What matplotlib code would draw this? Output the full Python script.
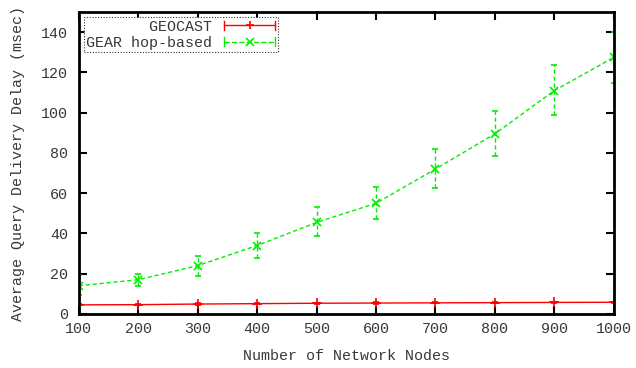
import matplotlib
matplotlib.use("Agg")
import matplotlib.pyplot as plt
from matplotlib.lines import Line2D
from matplotlib.legend_handler import HandlerBase

nodes = [100, 200, 300, 400, 500, 600, 700, 800, 900, 1000]
geocast = [4.5, 4.6, 4.9, 5.1, 5.3, 5.4, 5.5, 5.6, 5.7, 5.8]
geocast_err = [0.3, 0.3, 0.3, 0.3, 0.3, 0.3, 0.3, 0.3, 0.3, 0.3]
gear = [14.0, 17.0, 24.0, 34.0, 45.5, 55.0, 72.0, 89.5, 111.0, 127.5]
gear_lo = [9.5, 14.0, 19.0, 28.0, 38.5, 47.0, 62.5, 78.5, 99.0, 115.0]
gear_hi = [19.5, 20.0, 29.0, 40.0, 53.0, 63.0, 82.0, 101.0, 123.5, 140.0]

RED = "#ff0000"
GREEN = "#00ee00"
TXT = "#383838"

plt.rcParams["font.family"] = ["Liberation Mono", "DejaVu Sans Mono"]
plt.rcParams["font.size"] = 10.8

fig = plt.figure(figsize=(6.36, 3.68), dpi=100)
ax = fig.add_axes([0.124, 0.147, 0.841, 0.82])

ax.errorbar(nodes, geocast, yerr=geocast_err, color=RED, lw=1.0, marker="+",
            ms=6.5, mew=1.2, capsize=2.5, elinewidth=1.0)
lo = [g - l for g, l in zip(gear, gear_lo)]
hi = [h - g for g, h in zip(gear, gear_hi)]
eb = ax.errorbar(nodes, gear, yerr=[lo, hi], color=GREEN, lw=1.0, ls=(0, (3, 2)),
                 marker="x", ms=6, mew=1.2, capsize=2.5, elinewidth=1.0)
for c in eb[2]:
    c.set_linestyle((0, (3, 2)))

ax.set_xlim(100, 1000)
ax.set_ylim(0, 150)
ax.set_xticks(nodes)
ax.set_yticks(range(0, 141, 20))
ax.tick_params(direction="in", top=True, right=True, length=6, width=1.5,
               colors="black", labelcolor=TXT)
ax.tick_params(axis="y", pad=8)
ax.tick_params(axis="x", pad=6)
for s in ax.spines.values():
    s.set_linewidth(2)
ax.set_xlabel("Number of Network Nodes", color=TXT, labelpad=9)
ax.set_ylabel("Average Query Delivery Delay (msec)", color=TXT, labelpad=11)


class ErrHandler(HandlerBase):
    def create_artists(self, legend, orig, xd, yd, w, h, fs, trans):
        y = h / 2 - yd
        x0, x1 = -xd, -xd + w
        c = orig.get_color()
        ls = orig.get_linestyle()
        ln = Line2D([x0, x1], [y, y], color=c, lw=1.0, linestyle=ls)
        m = Line2D([(x0 + x1) / 2], [y], color=c, marker=orig.get_marker(),
                   ms=6, mew=1.2, linestyle="none")
        c1 = Line2D([x0, x0], [y - 3, y + 3], color=c, lw=1.0)
        c2 = Line2D([x1, x1], [y - 3, y + 3], color=c, lw=1.0)
        arts = [ln, m, c1, c2]
        for a in arts:
            a.set_transform(trans)
        return arts


h1 = Line2D([], [], color=RED, marker="+", linestyle="-")
h2 = Line2D([], [], color=GREEN, marker="x", linestyle=(0, (3, 2)))
leg = ax.legend([h1, h2], ["       GEOCAST", "GEAR hop-based"],
                handler_map={h1: ErrHandler(), h2: ErrHandler()},
                loc="upper left", markerfirst=False, handlelength=3.4,
                fancybox=False, framealpha=1, borderpad=0.15,
                labelspacing=0.15, handletextpad=0.8, borderaxespad=0.35)
fr = leg.get_frame()
fr.set_edgecolor("#333333")
fr.set_linestyle((0, (1, 1.5)))
fr.set_linewidth(0.8)
for t in leg.get_texts():
    t.set_color(TXT)

fig.savefig("out.png", dpi=100)
